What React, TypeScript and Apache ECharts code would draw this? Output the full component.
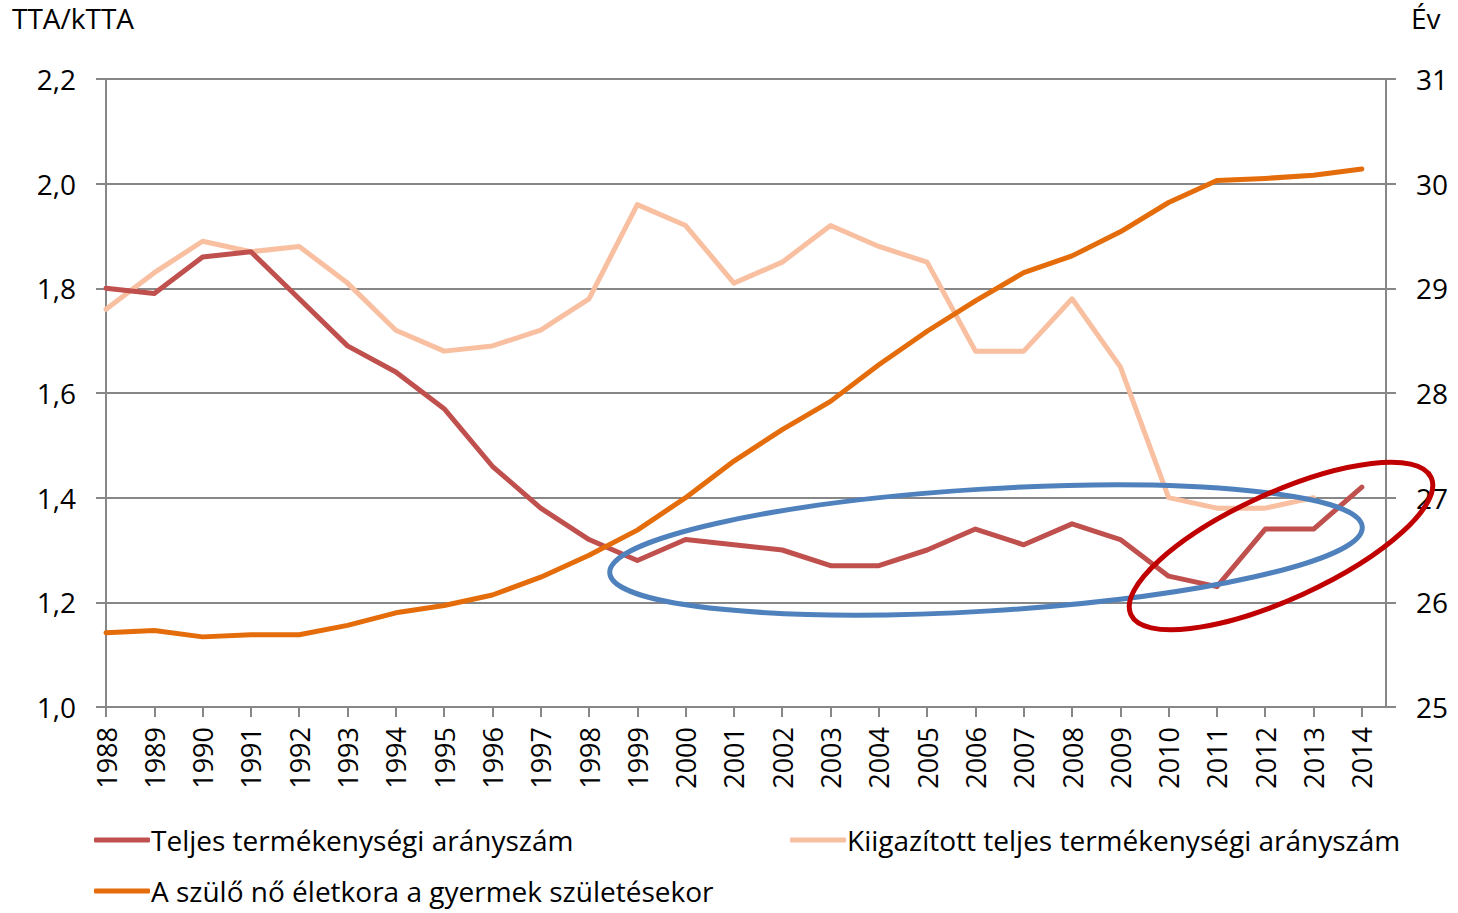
import React, { useEffect, useRef } from "react";
import * as echarts from "echarts";

const years = [1988, 1989, 1990, 1991, 1992, 1993, 1994, 1995, 1996, 1997, 1998, 1999, 2000, 2001, 2002, 2003, 2004, 2005, 2006, 2007, 2008, 2009, 2010, 2011, 2012, 2013, 2014];

const tfr = [1.80, 1.79, 1.86, 1.87, 1.78, 1.69, 1.64, 1.57, 1.46, 1.38, 1.32, 1.28, 1.32, 1.31, 1.30, 1.27, 1.27, 1.30, 1.34, 1.31, 1.35, 1.32, 1.25, 1.23, 1.34, 1.34, 1.42];

const adjustedTfr = [1.76, 1.83, 1.89, 1.87, 1.88, 1.81, 1.72, 1.68, 1.69, 1.72, 1.78, 1.96, 1.92, 1.81, 1.85, 1.92, 1.88, 1.85, 1.68, 1.68, 1.78, 1.65, 1.40, 1.38, 1.38, 1.40];

const motherAge = [25.71, 25.73, 25.67, 25.69, 25.69, 25.78, 25.90, 25.97, 26.07, 26.24, 26.45, 26.69, 27.00, 27.35, 27.65, 27.92, 28.27, 28.59, 28.88, 29.15, 29.31, 29.54, 29.82, 30.03, 30.05, 30.08, 30.14];

const seriesNames = [
  "Teljes termékenységi arányszám",
  "Kiigazított teljes termékenységi arányszám",
  "A szülő nő életkora a gyermek születésekor",
];

const leftAxisName = "TTA/kTTA";
const rightAxisName = "Év";

const FONT = "Open Sans";
const GRID = "#878787";
const FS = 28;

const pairs = (vals: number[]) => vals.map((v, i) => [years[i], v]);

export default function App() {
  const ref = useRef<HTMLDivElement>(null);
  useEffect(() => {
    if (!ref.current) return;
    const chart = echarts.init(ref.current, null, { renderer: "svg" });
    const legendBase = {
      orient: "horizontal",
      icon: "roundRect",
      itemWidth: 56,
      itemHeight: 5,
      padding: 0,
      textStyle: { fontFamily: FONT, fontSize: FS, lineHeight: 30, color: "#000", padding: [0, 0, 0, -4] },
    };
    chart.setOption({
      animation: false,
      backgroundColor: "#fff",
      textStyle: { fontFamily: FONT },
      grid: { left: 106, right: 72, top: 79, bottom: 206, containLabel: false },
      xAxis: {
        type: "value",
        min: 1988,
        max: 2014.5,
        interval: 1,
        axisLine: { show: true, onZero: false, lineStyle: { color: GRID, width: 2 } },
        axisTick: { show: true, length: 10, lineStyle: { color: GRID, width: 2 }, customValues: years },
        axisLabel: {
          customValues: years,
          rotate: 90,
          margin: 20,
          fontFamily: FONT,
          fontSize: 27,
          color: "#000",
          formatter: (v: number) => String(v),
        },
        splitLine: { show: false },
      },
      yAxis: [
        {
          type: "value",
          min: 1.0,
          max: 2.2,
          interval: 0.2,
          position: "left",
          axisLine: { show: true, lineStyle: { color: GRID, width: 2 } },
          axisTick: { show: true, length: 10, lineStyle: { color: GRID, width: 2 } },
          axisLabel: {
            margin: 30,
            fontFamily: FONT,
            fontSize: FS,
            color: "#000",
            formatter: (v: number) => v.toFixed(1).replace(".", ","),
          },
          splitLine: { show: true, lineStyle: { color: GRID, width: 2 } },
        },
        {
          type: "value",
          min: 25,
          max: 31,
          interval: 1,
          position: "right",
          axisLine: { show: true, lineStyle: { color: GRID, width: 2 } },
          axisTick: { show: true, length: 10, lineStyle: { color: GRID, width: 2 } },
          axisLabel: { margin: 30, fontFamily: FONT, fontSize: FS, color: "#000" },
          splitLine: { show: false },
        },
      ],
      legend: [
        { ...legendBase, data: [seriesNames[0]], left: 94, top: 825 },
        { ...legendBase, data: [seriesNames[1]], left: 790, top: 825 },
        { ...legendBase, data: [seriesNames[2]], left: 94, top: 876 },
      ],
      series: [
        {
          name: seriesNames[0],
          type: "line",
          yAxisIndex: 0,
          data: pairs(tfr),
          symbol: "none",
          color: "#C0504D",
          lineStyle: { width: 5, color: "#C0504D", join: "round", cap: "round" },
          z: 3,
        },
        {
          name: seriesNames[1],
          type: "line",
          yAxisIndex: 0,
          data: pairs(adjustedTfr),
          symbol: "none",
          color: "#F8BFA1",
          lineStyle: { width: 5, color: "#F8BFA1", join: "round", cap: "round" },
          z: 2,
        },
        {
          name: seriesNames[2],
          type: "line",
          yAxisIndex: 1,
          data: pairs(motherAge),
          symbol: "none",
          color: "#E46C0A",
          lineStyle: { width: 5, color: "#E46C0A", join: "round", cap: "round" },
          z: 4,
        },
      ],
      graphic: [
        {
          type: "text",
          left: 12,
          top: 4,
          style: { text: leftAxisName, fontFamily: FONT, fontSize: FS, fill: "#000" },
        },
        {
          type: "text",
          left: 1411,
          top: 4,
          style: { text: rightAxisName, fontFamily: FONT, fontSize: FS, fill: "#000" },
        },
        {
          type: "ellipse",
          x: 986,
          y: 550,
          rotation: (3.5 * Math.PI) / 180,
          shape: { cx: 0, cy: 0, rx: 377, ry: 61 },
          style: { fill: "none", stroke: "#4F81BD", lineWidth: 5 },
          z: 100,
        },
        {
          type: "ellipse",
          x: 1281,
          y: 546,
          rotation: (24.5 * Math.PI) / 180,
          shape: { cx: 0, cy: 0, rx: 165, ry: 53 },
          style: { fill: "none", stroke: "#C00000", lineWidth: 5 },
          z: 101,
        },
      ],
    });
    return () => chart.dispose();
  }, []);
  return <div ref={ref} style={{ width: 1458, height: 913, position: "absolute", left: 0, top: 0 }} />;
}
